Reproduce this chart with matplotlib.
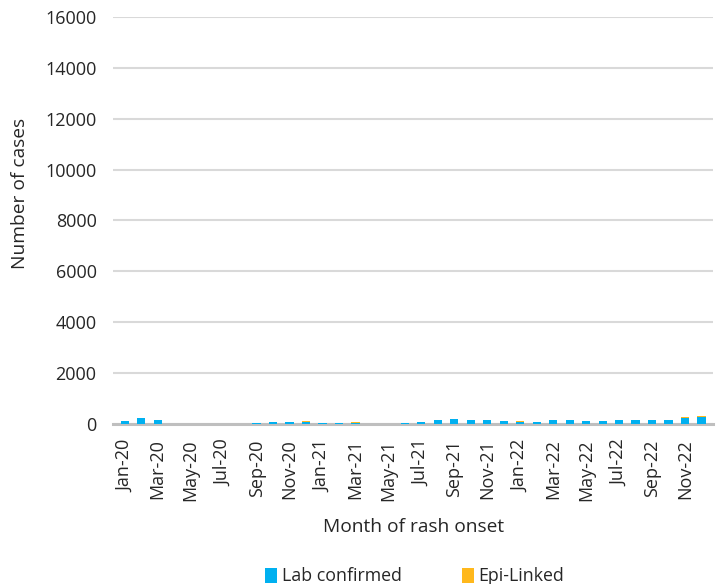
import numpy as np
import matplotlib.pyplot as plt

# monthly case counts by month of rash onset
months = ["Jan-20", "Feb-20", "Mar-20", "Apr-20", "May-20", "Jun-20",
          "Jul-20", "Aug-20", "Sep-20", "Oct-20", "Nov-20", "Dec-20",
          "Jan-21", "Feb-21", "Mar-21", "Apr-21", "May-21", "Jun-21",
          "Jul-21", "Aug-21", "Sep-21", "Oct-21", "Nov-21", "Dec-21",
          "Jan-22", "Feb-22", "Mar-22", "Apr-22", "May-22", "Jun-22",
          "Jul-22", "Aug-22", "Sep-22", "Oct-22", "Nov-22", "Dec-22"]
lab_confirmed = [120, 220, 140, 0, 0, 0, 0, 0, 20, 70, 70, 70,
                 40, 40, 40, 0, 0, 30, 80, 160, 180, 150, 170, 120,
                 90, 60, 150, 140, 110, 100, 150, 150, 150, 140, 250, 290]
epi_linked = [10, 5, 10, 10, 0, 0, 0, 0, 0, 10, 5, 40,
              10, 5, 20, 0, 0, 0, 5, 5, 20, 20, 5, 10,
              15, 15, 10, 10, 15, 5, 5, 5, 5, 20, 15, 40]

plt.rcParams["font.family"] = ["Open Sans", "DejaVu Sans"]
text_col = "#262626"

fig = plt.figure(figsize=(7.21, 5.84), dpi=100)
ax = fig.add_axes([0.157, 0.274, 0.832, 0.697])

x = np.arange(len(months))
ax.bar(x, lab_confirmed, width=0.5, color="#00B0F0", label="Lab confirmed",
       zorder=3)
ax.bar(x, epi_linked, width=0.5, bottom=lab_confirmed, color="#FFB81C",
       label="Epi-Linked", zorder=3)

ax.set_ylim(0, 16000)
ax.set_yticks(range(0, 16001, 2000))
ax.set_xlim(-0.7, len(months) - 0.3)
ax.set_xticks(x[::2])
ax.set_xticklabels(months[::2], rotation=90, fontsize=13, color=text_col)
ax.tick_params(axis="y", labelsize=13, labelcolor=text_col, length=0, pad=12)
ax.tick_params(axis="x", length=0, pad=11)

ax.yaxis.grid(True, color="#D9D9D9", linewidth=1.5, zorder=0)
for side in ["top", "right", "left"]:
    ax.spines[side].set_visible(False)
ax.spines["bottom"].set_color("#BFBFBF")
ax.spines["bottom"].set_linewidth(2.2)

ax.set_ylabel("Number of cases", fontsize=13.8, color=text_col)
ax.yaxis.set_label_coords(-0.14, 0.567)
ax.set_xlabel("Month of rash onset", fontsize=13.8, color=text_col)
ax.xaxis.set_label_coords(0.5, -0.231)

leg = fig.legend(loc="center", bbox_to_anchor=(0.575, 0.013), ncol=2,
                 frameon=False, fontsize=12.8, handlelength=0.67,
                 handleheight=0.9, columnspacing=3.4, handletextpad=0.28)
for t in leg.get_texts():
    t.set_color(text_col)

fig.savefig("out.png", dpi=100)
